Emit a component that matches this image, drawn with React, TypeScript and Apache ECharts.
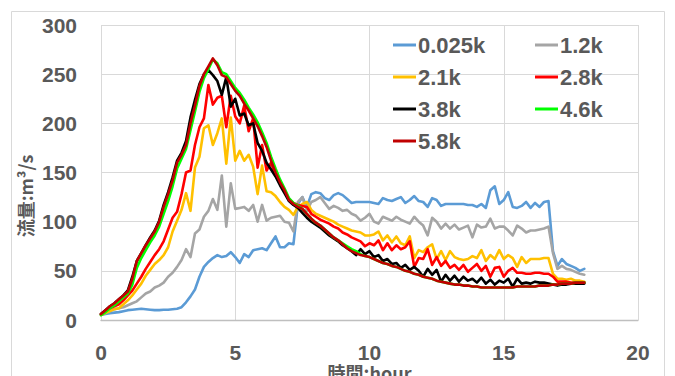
import React, { useEffect, useRef } from "react";
import * as echarts from "echarts";

// sampling interval of the hydrographs: 10 minutes
const STEP_HOURS = 1 / 6;

const SERIES_NAMES = ["0.025k", "1.2k", "2.1k", "2.8k", "3.8k", "4.6k", "5.8k"];
const LEGEND_LEFT = ["0.025k", "2.1k", "3.8k", "5.8k"];
const LEGEND_RIGHT = ["1.2k", "2.8k", "4.6k"];
const COLORS = ["#5B9BD5", "#A5A5A5", "#FFC000", "#FF0000", "#000000", "#00FF00", "#C00000"];

const X_AXIS_NAME = "時間:hour";
const Y_AXIS_NAME = "流量:m³/s";

const Q_0025K = [
  5, 6, 7, 7.5, 8, 9, 10, 10.5, 11, 11.5,
  11, 10.5, 10, 10, 10.5, 10.5, 11, 11.5, 13, 18,
  24, 31, 44, 54, 59, 63, 66, 64, 65, 69,
  64, 58, 67, 64, 71, 72, 73, 71, 78, 85,
  74, 74, 78, 77, 118, 125, 115, 128, 130, 129,
  124, 122, 127, 129, 127, 123, 119, 120, 120, 120,
  120, 119, 118, 124, 122, 121, 123, 125, 119, 122,
  126, 121, 120, 115, 124, 122, 116, 118, 118, 118,
  118, 118, 117, 117, 115, 118, 114, 132, 136, 118,
  122, 130, 115, 114, 116, 120, 114, 119, 115, 120,
  121, 70, 55, 62, 57, 55, 53, 50, 52,
];
const Q_1_2K = [
  6, 8, 9, 11, 12, 13, 15, 17, 19, 23,
  27, 29, 33, 35, 38, 44, 48, 54, 61, 72,
  64, 88, 92, 105, 111, 123, 112, 147, 95, 139,
  113, 114, 115, 111, 117, 100, 117, 101, 104, 105,
  106, 100, 99, 90, 120, 125, 111, 120, 122, 125,
  119, 113, 116, 114, 111, 112, 108, 106, 101, 104,
  108, 100, 98, 105, 103, 101, 105, 102, 100, 98,
  105, 100, 96, 86, 104, 100, 93, 98, 93, 97,
  92, 94, 96, 84, 97, 94, 95, 103, 93, 95,
  95, 91, 86, 96, 93, 89, 91, 91, 92, 93,
  95, 68, 52, 55, 52, 51, 49, 47, 46,
];
const Q_2_1K = [
  5, 7, 9, 11, 12, 16, 20, 25, 31, 37,
  45, 51, 57, 61, 66, 74, 90, 101, 112, 129,
  111, 155, 166, 195, 198, 178, 190, 205, 159, 206,
  162, 172, 162, 168, 156, 128, 157, 131, 130, 126,
  120, 115, 112, 107, 115, 118, 120, 112, 108, 106,
  104, 102, 100, 97, 95, 93, 91, 90, 89, 86,
  86, 87, 90, 81, 86, 79, 85, 78, 76, 85,
  63, 71, 69, 74, 77, 62, 70, 61, 70, 64,
  62, 61, 62, 65, 63, 71, 60, 66, 62, 71,
  62, 66, 63, 54, 64, 58, 62, 62, 62, 63,
  63, 47, 42, 42, 41, 42, 40, 40, 39,
];
const Q_2_8K = [
  6, 9, 12, 14, 16, 20, 25, 30, 37, 44,
  52, 59, 66, 72, 80, 92, 104, 110, 128, 150,
  152, 178, 196, 205, 239, 219, 226, 228, 196, 228,
  207, 200, 218, 192, 205, 155, 178, 152, 160, 147,
  139, 132, 123, 119, 117, 116, 115, 108, 105, 102,
  100, 98, 95, 93, 89, 87, 84, 82, 80, 75,
  78, 76, 81, 71, 78, 71, 76, 72, 74, 80,
  54, 63, 62, 72, 56, 64, 55, 60, 53, 56,
  51, 56, 49, 53, 57, 50, 55, 44, 53, 54,
  44, 50, 53, 48, 48, 47, 47, 48, 48, 47,
  47, 44, 39, 39, 39, 38, 38, 38, 38,
];
const Q_3_8K = [
  6, 10, 14, 17, 21, 25, 30, 44, 60, 68,
  76, 84, 91, 101, 117, 130, 145, 162, 170, 182,
  206, 224, 240, 250, 254, 249, 243, 229, 247, 217,
  225, 208, 210, 198, 200, 180, 172, 160, 153, 146,
  137, 129, 121, 117, 114, 109, 104, 100, 97, 94,
  90, 86, 83, 80, 76, 73, 70, 66, 72, 67,
  70, 64, 66, 60, 62, 57, 58, 53, 56, 51,
  54, 50, 44, 52, 46, 51, 39, 46, 40, 45,
  39, 44, 40, 42, 38, 43, 37, 41, 36, 40,
  38, 42, 34, 42, 37, 38, 37, 39, 38, 38,
  37, 36, 35, 36, 36, 37, 37, 37, 37,
];
const Q_4_6K = [
  5, 8, 12, 15, 19, 23, 27, 36, 53, 63,
  71, 79, 86, 95, 108, 121, 136, 154, 164, 174,
  193, 212, 232, 246, 255, 265, 261, 252, 250, 243,
  236, 231, 224, 216, 209, 201, 191, 180, 166, 154,
  143, 134, 124, 119, 116, 113, 108, 103, 99, 96,
  92, 88, 84, 81, 78, 75, 72, 70, 67, 65,
  64, 62, 60, 58, 57, 55, 54, 52, 50, 49,
  47, 46, 44, 43, 42, 40, 39, 38, 37, 36,
  36, 35, 35, 34, 34, 33, 33, 33, 33, 33,
  33, 33, 33, 34, 34, 34, 34, 34, 35, 35,
  35, 36, 36, 37, 37, 37, 38, 38, 38,
];
const Q_5_8K = [
  6, 10, 14, 17, 21, 25, 29, 42, 60, 68,
  76, 83, 90, 100, 115, 128, 142, 160, 168, 178,
  200, 218, 238, 250, 258, 266, 259, 249, 247, 240,
  233, 228, 220, 213, 205, 197, 187, 176, 162, 150,
  140, 132, 122, 118, 115, 113, 108, 103, 99, 96,
  92, 88, 84, 81, 77, 73, 70, 68, 66, 65,
  64, 62, 60, 58, 57, 55, 54, 52, 50, 49,
  47, 46, 44, 43, 42, 40, 39, 38, 37, 36,
  36, 35, 35, 34, 34, 33, 33, 33, 33, 33,
  33, 33, 33, 34, 34, 34, 34, 34, 35, 35,
  35, 36, 36, 37, 37, 37, 38, 38, 38,
];

const ALL_SERIES = [Q_0025K, Q_1_2K, Q_2_1K, Q_2_8K, Q_3_8K, Q_4_6K, Q_5_8K];

const X_MIN = 0;
const X_MAX = 20;
const X_INTERVAL = 5;
const Y_MIN = 0;
const Y_MAX = 300;
const Y_INTERVAL = 50;

const FONT = "'Liberation Sans', Arial, sans-serif";
const CJK_FONT = "'Noto Sans CJK JP', 'Liberation Sans', sans-serif";
const TEXT_COLOR = "#595959";
const GRID_COLOR = "#d9d9d9";

export default function App() {
  const ref = useRef<HTMLDivElement>(null);

  useEffect(() => {
    if (!ref.current) return;
    const chart = echarts.init(ref.current, null, { renderer: "svg" });

    const series = ALL_SERIES.map((vals, i) => ({
      name: SERIES_NAMES[i],
      type: "line",
      data: vals.map((v, k) => [k * STEP_HOURS, v]),
      showSymbol: false,
      symbol: "none",
      color: COLORS[i],
      lineStyle: { width: 2.6, color: COLORS[i], join: "round", cap: "round" },
      z: 2 + i,
    }));

    const legendBase = {
      orient: "vertical",
      top: 34,
      padding: 0,
      itemWidth: 23,
      itemHeight: 3,
      itemGap: 10,
      icon: "rect",
      textStyle: {
        fontFamily: FONT,
        fontSize: 22,
        fontWeight: "bold",
        color: TEXT_COLOR,
        lineHeight: 22,
        padding: [0, 0, 0, -3],
      },
    };

    chart.setOption({
      animation: false,
      backgroundColor: "#ffffff",
      textStyle: { fontFamily: FONT },
      graphic: [
        {
          type: "rect",
          shape: { x: 11.5, y: 11.5, width: 653, height: 420 },
          style: { fill: "none", stroke: "#d9d9d9", lineWidth: 1 },
          z: -10,
          silent: true,
        },
        {
          type: "text",
          x: 25,
          y: 196,
          rotation: Math.PI / 2,
          style: {
            text: Y_AXIS_NAME,
            fontFamily: CJK_FONT,
            fontSize: 18,
            fontWeight: "bold",
            fill: TEXT_COLOR,
            align: "center",
            verticalAlign: "middle",
          },
          silent: true,
        },
      ],
      grid: {
        left: 101,
        right: 37,
        top: 25,
        bottom: 56,
        containLabel: false,
        outerBoundsMode: "none",
      },
      legend: [
        { ...legendBase, left: 393, data: LEGEND_LEFT },
        { ...legendBase, left: 535, data: LEGEND_RIGHT },
      ],
      xAxis: {
        type: "value",
        min: X_MIN,
        max: X_MAX,
        interval: X_INTERVAL,
        name: X_AXIS_NAME,
        nameLocation: "middle",
        nameGap: 43,
        nameMoveOverlap: false,
        nameTextStyle: { fontFamily: CJK_FONT, fontSize: 18, fontWeight: "bold", color: TEXT_COLOR },
        axisLine: { show: true, lineStyle: { color: "#bfbfbf", width: 1.3 } },
        axisTick: { show: false },
        axisLabel: { margin: 22, fontSize: 21, fontWeight: "bold", color: TEXT_COLOR, fontFamily: FONT },
        splitLine: { show: true, lineStyle: { color: GRID_COLOR, width: 1 } },
      },
      yAxis: {
        type: "value",
        min: Y_MIN,
        max: Y_MAX,
        interval: Y_INTERVAL,
        axisLine: { show: false },
        axisTick: { show: false },
        axisLabel: { margin: 24, fontSize: 21, fontWeight: "bold", color: TEXT_COLOR, fontFamily: FONT },
        splitLine: { show: true, lineStyle: { color: GRID_COLOR, width: 1 } },
      },
      series,
    });

    return () => chart.dispose();
  }, []);

  return (
    <div
      ref={ref}
      style={{ position: "absolute", left: 0, top: 0, width: 675, height: 376, background: "#fff" }}
    />
  );
}
